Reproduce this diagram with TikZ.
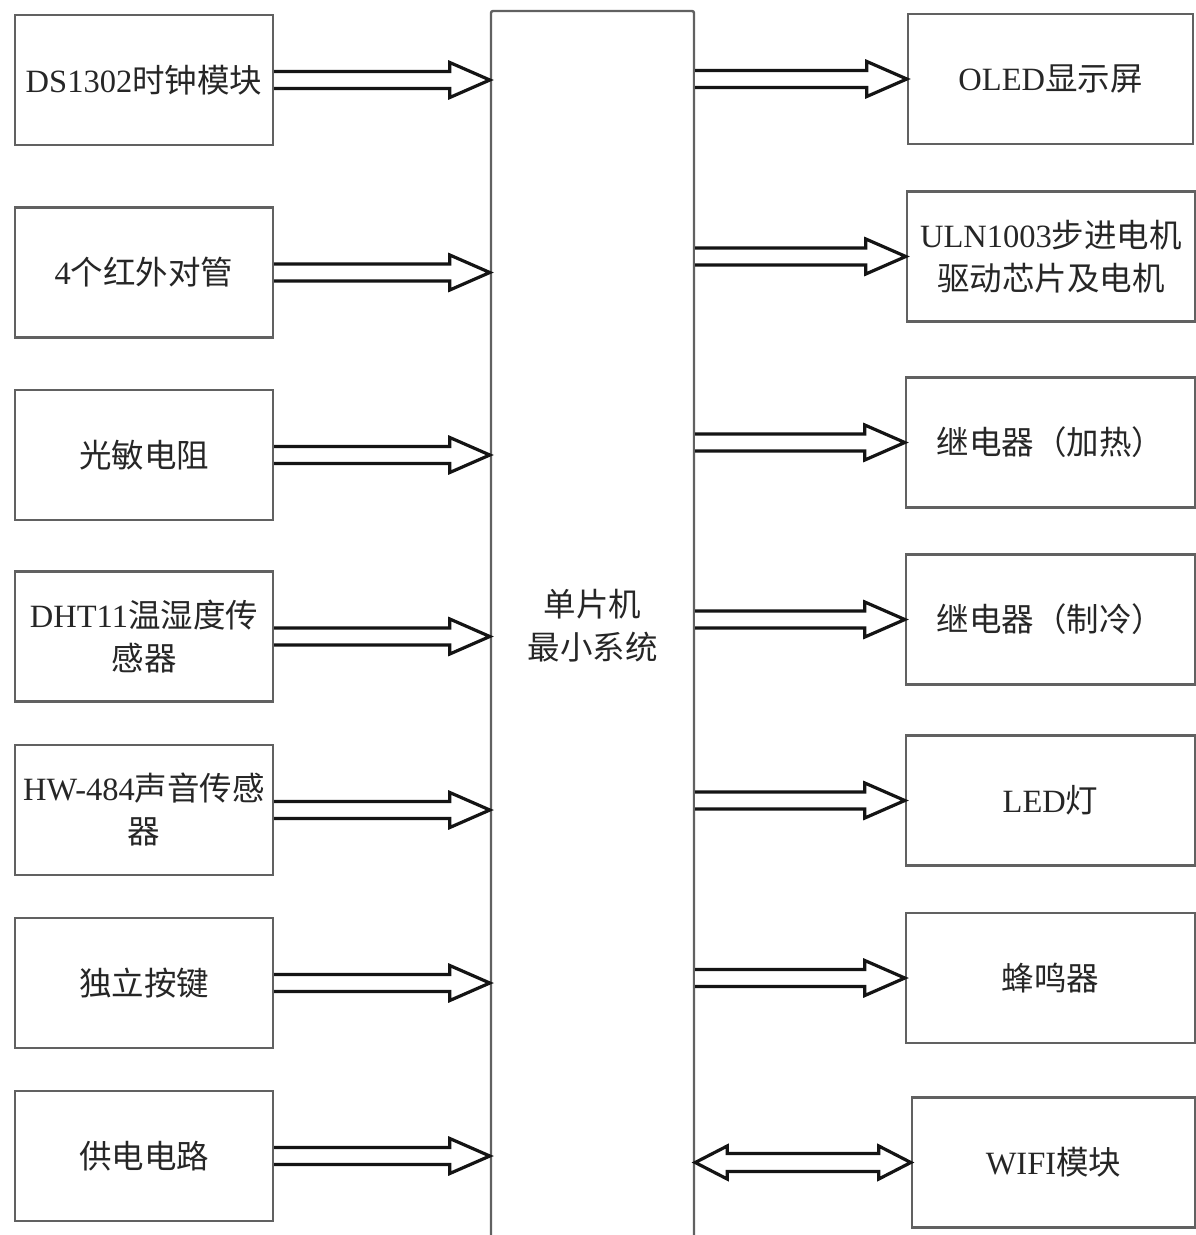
\documentclass[tikz,border=0pt]{standalone}
\usepackage{fontspec}
\setmainfont{Liberation Serif}
\newfontfamily\cjk{Noto Sans CJK SC}
\newcommand\zh[1]{{\cjk #1}}
\usetikzlibrary{calc}
\tikzset{
  blk/.style={draw=black!62, line width=2.4pt, minimum height=130pt, inner sep=0pt,
    align=center, font=\fontsize{32.5}{43}\selectfont, text=black!85},
  lblk/.style={blk, minimum width=258pt},
  fat/.style={draw=black!92, line width=3.2pt, fill=white, line join=miter},
}
% right-pointing fat arrow from #1 to #2 (same height as #1)
\newcommand\fatR[2]{%
  \draw[fat] let \p1=#1, \p2=#2 in
    (\x1,\y1+8.5pt) -- (\x2-40pt,\y1+8.5pt) -- (\x2-40pt,\y1+17.5pt) -- (\x2,\y1)
    -- (\x2-40pt,\y1-17.5pt) -- (\x2-40pt,\y1-8.5pt) -- (\x1,\y1-8.5pt);}
% double-headed fat arrow from #1 to #2
\newcommand\fatLR[2]{%
  \draw[fat] let \p1=#1, \p2=#2 in
    (\x1,\y1) -- (\x1+32pt,\y1+16.5pt) -- (\x1+32pt,\y1+9pt) -- (\x2-32pt,\y1+9pt)
    -- (\x2-32pt,\y1+16.5pt) -- (\x2,\y1) -- (\x2-32pt,\y1-16.5pt) -- (\x2-32pt,\y1-9pt)
    -- (\x1+32pt,\y1-9pt) -- (\x1+32pt,\y1-16.5pt) -- cycle;}
\begin{document}
\begin{tikzpicture}[x=1pt,y=-1pt]
\useasboundingbox (0,0) rectangle (1196,1235);
\clip (0,0) rectangle (1196,1235);
\fill[white] (0,0) rectangle (1196,1235);

% central block
\node[blk, minimum width=203pt, minimum height=1229pt, rounded corners=2pt] (c) at (592.5,625.5)
  {\zh{单片机}\\\zh{最小系统}};

% left blocks
\node[lblk] (l1) at (144,80)    {DS1302\zh{时钟模块}};
\node[lblk] (l2) at (144,272.5) {4\zh{个红外对管}};
\node[lblk] (l3) at (144,455)   {\zh{光敏电阻}};
\node[lblk] (l4) at (144,636.5) {DHT11\zh{温湿度传}\\\zh{感器}};
\node[lblk] (l5) at (144,810)   {HW-484\zh{声音传感}\\\zh{器}};
\node[lblk] (l6) at (144,983)   {\zh{独立按键}};
\node[lblk] (l7) at (144,1156)  {\zh{供电电路}};

% right blocks
\node[blk, minimum width=285pt] (r1) at (1050.5,79)    {OLED\zh{显示屏}};
\node[blk, minimum width=288pt] (r2) at (1051,256.5)   {ULN1003\zh{步进电机}\\\zh{驱动芯片及电机}};
\node[blk, minimum width=289pt] (r3) at (1050.5,442.5) {\zh{继电器（加热）}};
\node[blk, minimum width=289pt] (r4) at (1050.5,619.5) {\zh{继电器（制冷）}};
\node[blk, minimum width=289pt] (r5) at (1050.5,800.5) {LED\zh{灯}};
\node[blk, minimum width=289pt] (r6) at (1050.5,978)   {\zh{蜂鸣器}};
\node[blk, minimum width=283pt] (r7) at (1053.5,1162.5) {WIFI\zh{模块}};

% input arrows
\foreach \bx in {l1,l2,l3,l4,l5,l6,l7} {
  \fatR{(\bx.east)}{(\bx.east -| c.west)}
}
% output arrows
\foreach \bx in {r1,r2,r3,r4,r5,r6} {
  \fatR{(\bx.west -| c.east)}{(\bx.west)}
}
% bidirectional
\fatLR{(r7.west -| c.east)}{(r7.west)}
\end{tikzpicture}
\end{document}
